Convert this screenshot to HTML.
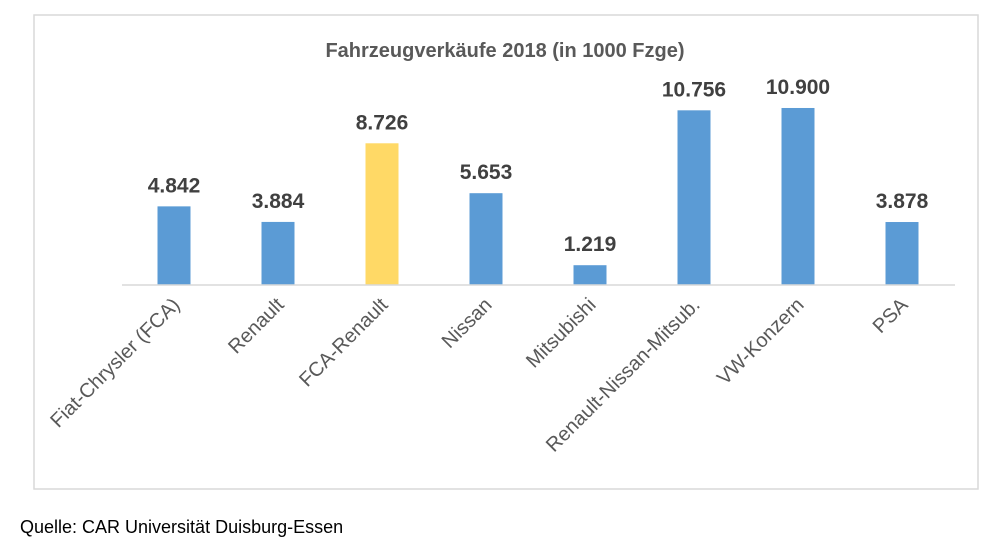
<!DOCTYPE html>
<html><head><meta charset="utf-8"><style>
body{margin:0;background:#fff;width:1000px;height:552px;overflow:hidden;font-family:"Liberation Sans",sans-serif}
</style></head><body>
<svg width="1000" height="552">
<rect x="34" y="15" width="944" height="474" fill="#fff" stroke="#d9d9d9" stroke-width="1.5"/>
<text x="505" y="57" text-anchor="middle" font-size="20" font-weight="bold" fill="#595959">Fahrzeugverkäufe 2018  (in 1000 Fzge)</text>
<g id="bars"></g>
<line x1="122" y1="285" x2="955" y2="285" stroke="#d9d9d9" stroke-width="1.5"/>
<text x="20" y="533" font-size="18" fill="#000">Quelle: CAR Universität Duisburg-Essen</text>
</svg>
<script>
const categories=["Fiat-Chrysler (FCA)","Renault","FCA-Renault","Nissan","Mitsubishi","Renault-Nissan-Mitsub.","VW-Konzern","PSA"];
const values=[4.842,3.884,8.726,5.653,1.219,10.756,10.900,3.878];
const valueLabels=["4.842","3.884","8.726","5.653","1.219","10.756","10.900","3.878"];
const highlight=[false,false,true,false,false,false,false,false];
const g=document.getElementById('bars');const ns="http://www.w3.org/2000/svg";
const base=285,scale=16.24,x0=174,step=104,bw=33;
const y=v=>base-v*scale;
values.forEach((v,i)=>{
 const cx=x0+i*step;
 const r=document.createElementNS(ns,'rect');
 r.setAttribute('x',cx-bw/2);r.setAttribute('y',y(v));r.setAttribute('width',bw);r.setAttribute('height',base-y(v));
 r.setAttribute('fill',highlight[i]?'#ffd966':'#5b9bd5');
 
 
 g.appendChild(r);
 const t=document.createElementNS(ns,'text');
 t.setAttribute('x',cx);t.setAttribute('y',y(v)-14);t.setAttribute('text-anchor','middle');
 t.setAttribute('font-size','21');t.setAttribute('font-weight','bold');t.setAttribute('fill','#404040');
 t.textContent=valueLabels[i];
 
 
 g.appendChild(t);
 const c=document.createElementNS(ns,'text');
 const lx=cx+7,ly=306;
 c.setAttribute('x',lx);c.setAttribute('y',ly);c.setAttribute('text-anchor','end');
 c.setAttribute('transform','rotate(-45 '+lx+' '+ly+')');
 c.setAttribute('font-size','20');c.setAttribute('fill','#595959');
 c.textContent=categories[i];
 
 
 g.appendChild(c);
});
</script>
</body></html>
